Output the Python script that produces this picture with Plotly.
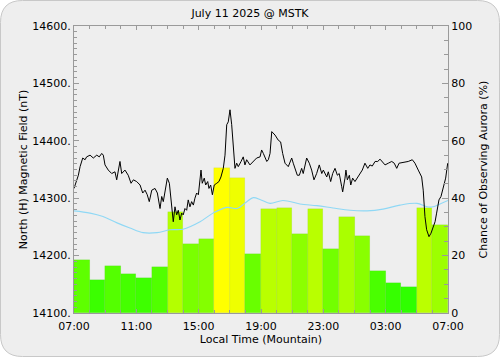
import plotly.graph_objects as go

# ---------------- data ----------------
# hourly aurora chance (%) for each local hour starting 07:00
hour_start = list(range(24))
aurora_pct = [18.5, 11.5, 16.5, 13.5, 12.2, 15.9, 35.2, 23.9, 25.8, 50.4, 46.9, 20.6,
              36.3, 36.7, 27.5, 36.3, 22.3, 33.4, 26.9, 14.5, 10.6, 9.2, 36.6, 30.8]

# magnetic field (hours since 07:00, nT)
field_t = [0.00, 0.17, 0.28, 0.39, 0.56, 0.71, 0.81, 1.03, 1.24, 1.46, 1.62, 1.78, 1.88, 1.99,
           2.20, 2.42, 2.63, 2.74, 2.84, 2.95, 3.06, 3.27, 3.48, 3.66, 3.81, 4.02, 4.24, 4.41,
           4.56, 4.70, 4.83, 4.99, 5.20, 5.35, 5.52, 5.63, 5.73, 5.84, 5.99, 6.12, 6.20, 6.27,
           6.37, 6.48, 6.59, 6.69, 6.80, 6.91, 7.01, 7.12, 7.23, 7.33, 7.44, 7.55, 7.66, 7.76,
           7.87, 7.98, 8.09, 8.15, 8.23, 8.36, 8.45, 8.58, 8.66, 8.77, 8.88, 9.00, 9.16, 9.30,
           9.43, 9.58, 9.69, 9.80, 9.90, 10.01, 10.12, 10.22, 10.33, 10.44, 10.54, 10.72, 10.86,
           10.97, 11.08, 11.29, 11.51, 11.72, 11.94, 12.04, 12.15, 12.37, 12.47, 12.58, 12.69,
           12.79, 12.90, 13.11, 13.26, 13.39, 13.54, 13.75, 13.97, 14.07, 14.18, 14.33, 14.46,
           14.61, 14.71, 14.93, 15.10, 15.25, 15.40, 15.57, 15.74, 15.90, 16.00, 16.22, 16.32,
           16.47, 16.60, 16.75, 16.90, 17.02, 17.18, 17.24, 17.39, 17.45, 17.54, 17.67, 17.76,
           17.88, 18.03, 18.18, 18.35, 18.50, 18.67, 18.85, 18.99, 19.14, 19.32, 19.49, 19.64,
           19.78, 19.96, 20.17, 20.39, 20.55, 20.71, 20.86, 21.13, 21.45, 21.71, 21.88, 22.09,
           22.31, 22.41, 22.52, 22.63, 22.78, 22.91, 23.06, 23.17, 23.27, 23.42, 23.55, 23.70,
           23.85, 23.98]
field_nT = [14317, 14329, 14340, 14355, 14370, 14367, 14372, 14375, 14370, 14375, 14372, 14378,
            14375, 14358, 14349, 14343, 14346, 14332, 14346, 14364, 14343, 14349, 14340, 14326,
            14332, 14329, 14323, 14309, 14314, 14306, 14294, 14314, 14317, 14309, 14282, 14303,
            14294, 14314, 14335, 14326, 14300, 14282, 14259, 14285, 14271, 14279, 14262, 14274,
            14271, 14282, 14279, 14297, 14285, 14294, 14288, 14300, 14309, 14306, 14329, 14349,
            14326, 14335, 14323, 14329, 14317, 14323, 14306, 14323, 14326, 14329, 14337, 14352,
            14375, 14428, 14433, 14454, 14428, 14393, 14352, 14361, 14355, 14364, 14372, 14358,
            14367, 14358, 14364, 14370, 14372, 14384, 14378, 14364, 14367, 14378, 14416, 14413,
            14410, 14401, 14398, 14378, 14361, 14355, 14370, 14361, 14352, 14340, 14340, 14352,
            14343, 14370, 14361, 14349, 14332, 14343, 14358, 14343, 14349, 14337, 14346, 14329,
            14343, 14352, 14340, 14343, 14320, 14311, 14335, 14349, 14332, 14340, 14323, 14335,
            14329, 14335, 14343, 14349, 14361, 14352, 14358, 14356, 14364, 14364, 14368, 14364,
            14358, 14361, 14364, 14361, 14352, 14361, 14362, 14364, 14367, 14361, 14349, 14337,
            14314, 14268, 14245, 14233, 14239, 14250, 14259, 14274, 14297, 14303, 14320, 14335,
            14361]

# quiet-day baseline (hours since 07:00, nT)
base_t = [0.0, 1.03, 1.86, 2.76, 3.59, 4.43, 5.33, 6.16, 6.99, 8.09, 8.92, 9.82, 10.46, 11.0,
          11.5, 12.0, 12.58, 13.41, 14.5, 15.59, 16.62, 17.71, 18.8, 19.83, 20.92, 22.01,
          22.65, 23.04, 23.49, 24.0]
base_nT = [14278, 14274, 14268, 14257, 14248, 14240, 14240, 14245, 14246, 14259, 14274, 14284,
           14282, 14292, 14301, 14297, 14291, 14296, 14290, 14287, 14283, 14279, 14278, 14281,
           14288, 14291, 14285, 14285, 14290, 14296]

tick_pos = [0, 4, 8, 12, 16, 20, 24]
tick_text = ["07:00", "11:00", "15:00", "19:00", "23:00", "03:00", "07:00"]


def bar_colour(v):
    r = max(0, min(255, round(5.1 * v)))
    return f"rgb({r},255,0)"


bar_colours = [bar_colour(v) for v in aurora_pct]
bar_centres = [h + 0.5 for h in hour_start]

W, H = 500, 357
ML, MR, MT, MB = 74, 52, 26, 44
PW, PH = W - ML - MR, H - MT - MB

fig = go.Figure()
fig.add_trace(go.Bar(x=bar_centres, y=aurora_pct, width=1.0, yaxis="y",
                     marker=dict(color=bar_colours,
                                 line=dict(width=0.5, color="rgba(0,90,0,0.12)")),
                     hoverinfo="skip", showlegend=False))
fig.add_trace(go.Scatter(x=base_t, y=base_nT, yaxis="y2", mode="lines",
                         line=dict(color="#8fd8f5", width=1.1, shape="spline"),
                         showlegend=False))
fig.add_trace(go.Scatter(x=field_t, y=field_nT, yaxis="y2", mode="lines",
                         line=dict(color="black", width=1), showlegend=False))


# rounded background panel
def px2paper(px, py):
    return (px - ML) / PW, (H - MB - py) / PH


def P(px, py):
    a, b = px2paper(px, py)
    return f"{a:.5f},{b:.5f}"


r = 22
x0, y0, x1, y1 = 0.5, 0.5, W - 0.5, H - 0.5
path = (f"M {P(x0 + r, y0)} L {P(x1 - r, y0)} Q {P(x1, y0)} {P(x1, y0 + r)} "
        f"L {P(x1, y1 - r)} Q {P(x1, y1)} {P(x1 - r, y1)} L {P(x0 + r, y1)} "
        f"Q {P(x0, y1)} {P(x0, y1 - r)} L {P(x0, y0 + r)} Q {P(x0, y0)} {P(x0 + r, y0)} Z")
fig.add_shape(type="path", path=path, xref="paper", yref="paper", layer="below",
              fillcolor="#eeeeee", line=dict(color="#c8c8c8", width=1))

font = dict(family="DejaVu Sans", size=11, color="black")
axcol = "#9a9a9a"

fig.update_layout(
    width=W, height=H,
    margin=dict(l=ML, r=MR, t=MT, b=MB, pad=0),
    paper_bgcolor="white", plot_bgcolor="#eeeeee",
    font=font, bargap=0,
    title=dict(text="July 11 2025 @ MSTK", x=0.5, xanchor="center", y=1 - 13 / H,
               yanchor="middle", font=dict(family="DejaVu Sans", size=11)),
    xaxis=dict(range=[0, 24], tickmode="array", tickvals=tick_pos, ticktext=tick_text,
               ticks="inside", ticklen=4, tickcolor=axcol, showline=True, linecolor=axcol,
               linewidth=1, mirror="ticks", showgrid=False, zeroline=False,
               ticklabelstandoff=3,
               minor=dict(ticks="inside", dtick=1, tick0=0, ticklen=3, tickcolor=axcol),
               title=dict(text="Local Time (Mountain)", standoff=3, font=font),
               automargin=False),
    yaxis=dict(range=[0, 100], side="right", tickmode="linear", tick0=0, dtick=20,
               ticks="inside", ticklen=6, tickcolor=axcol, showline=True, linecolor=axcol,
               showgrid=False, zeroline=False,
               minor=dict(ticks="inside", dtick=5, ticklen=4, tickcolor=axcol),
               title=dict(text="Chance of Observing Aurora (%)", standoff=8, font=font),
               automargin=False),
    yaxis2=dict(range=[14100, 14600], side="left", overlaying="y", tickmode="linear",
                tick0=14100, dtick=100, tickformat="d", ticksuffix=".", ticks="inside",
                ticklen=5, tickcolor=axcol, showline=True, linecolor=axcol, showgrid=False,
                zeroline=False,
                minor=dict(ticks="inside", dtick=10, ticklen=3, tickcolor=axcol),
                title=dict(text="North (H) Magnetic Field (nT)", standoff=2, font=font),
                automargin=False),
)

fig.write_html("out.html", config={"displayModeBar": False},
               post_script="document.body.style.margin='0';document.body.style.overflow='hidden';")
